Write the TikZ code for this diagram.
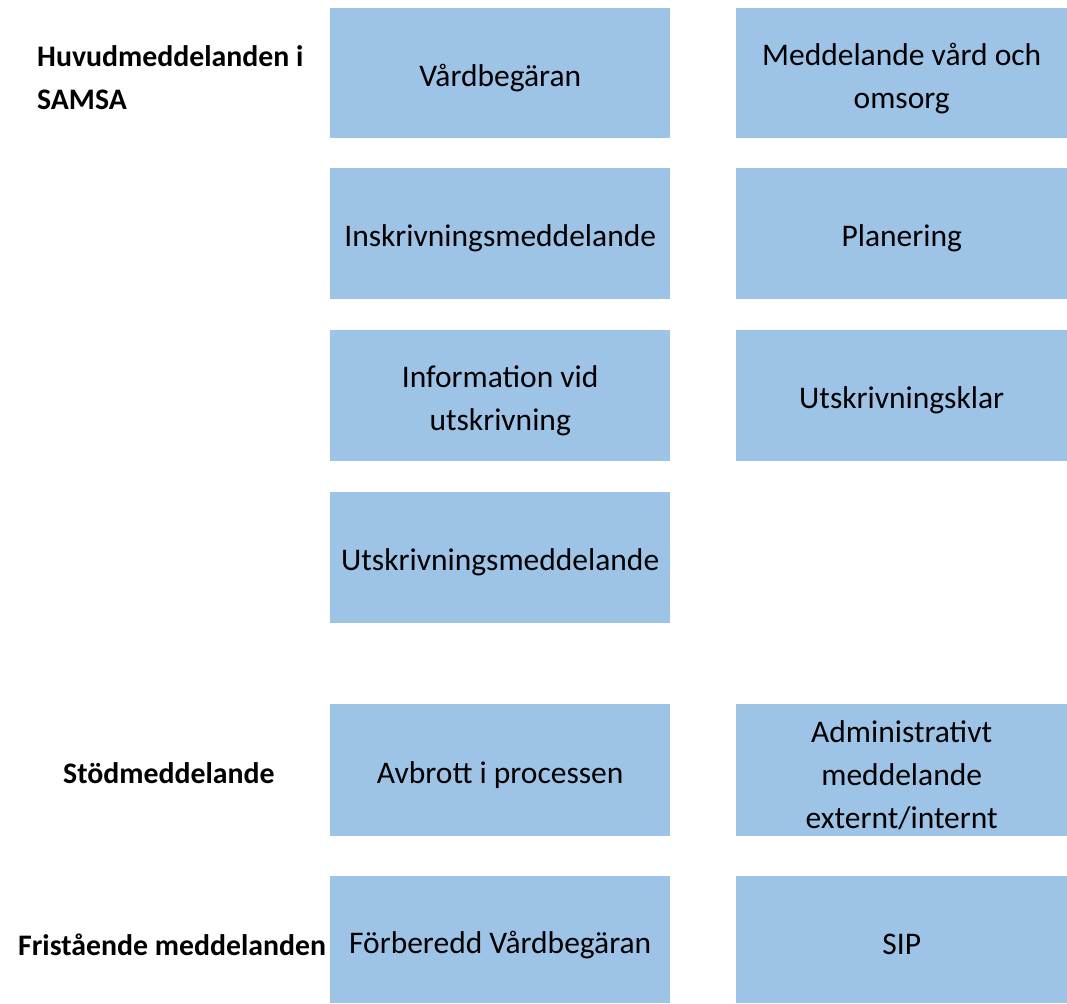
\documentclass[tikz,border=0pt]{standalone}
\usepackage{fontspec}
\setmainfont{Carlito}
\definecolor{boxblue}{HTML}{9DC3E6}
\begin{document}
\begin{tikzpicture}[x=1pt,y=1pt,
  msgbox/.style={fill=boxblue, draw=none, inner sep=0pt, anchor=north west},
  msgtext/.style={inner sep=0pt, align=center, yshift=-5pt,
    font=\fontsize{31.5}{43}\selectfont},
  grouplabel/.style={font=\bfseries\fontsize{29.8}{43}\selectfont, align=left, inner sep=0pt}]
\useasboundingbox (0,0) rectangle (1067,1003);
% left column boxes: x 330-670
\node[msgbox, minimum width=340, minimum height=130] (vb) at (330,995) {};
\node[msgbox, minimum width=340, minimum height=131] (ins) at (330,835) {};
\node[msgbox, minimum width=340, minimum height=131] (info) at (330,673) {};
\node[msgbox, minimum width=340, minimum height=131] (utm) at (330,511) {};
\node[msgbox, minimum width=340, minimum height=132] (avb) at (330,299) {};
\node[msgbox, minimum width=340, minimum height=127] (fvb) at (330,127) {};
% right column boxes: x 736-1067
\node[msgbox, minimum width=331, minimum height=130] (mvo) at (736,995) {};
\node[msgbox, minimum width=331, minimum height=131] (plan) at (736,835) {};
\node[msgbox, minimum width=331, minimum height=131] (uk) at (736,673) {};
\node[msgbox, minimum width=331, minimum height=132] (adm) at (736,299) {};
\node[msgbox, minimum width=331, minimum height=127] (sip) at (736,127) {};
% box texts
\node[msgtext] (vbt) at (vb.center) {Vårdbegäran};
\node[msgtext] (inst) at (ins.center) {Inskrivningsmeddelande};
\node[msgtext] (infot) at (info.center) {Information vid\\utskrivning};
\node[msgtext] (utmt) at (utm.center) {Utskrivningsmeddelande};
\node[msgtext] (avbt) at (avb.center) {Avbrott i processen};
\node[msgtext] (fvbt) at (fvb.center) {Förberedd Vårdbegäran};
\node[msgtext] (mvot) at (mvo.center) {Meddelande vård och\\omsorg};
\node[msgtext] (plant) at (plan.center) {Planering};
\node[msgtext] (ukt) at (uk.center) {Utskrivningsklar};
\node[msgtext] (admt) at (adm.center) {Administrativt\\meddelande\\externt/internt};
\node[msgtext] (sipt) at (sip.center) {SIP};
% group labels
\node[grouplabel, anchor=west] (huv) at (37,925) {Huvudmeddelanden i\\SAMSA};
\node[grouplabel, anchor=west] (std) at (63,230) {Stödmeddelande};
\node[grouplabel, anchor=west] (fri) at (18,58) {Fristående meddelanden};
\end{tikzpicture}
\end{document}
